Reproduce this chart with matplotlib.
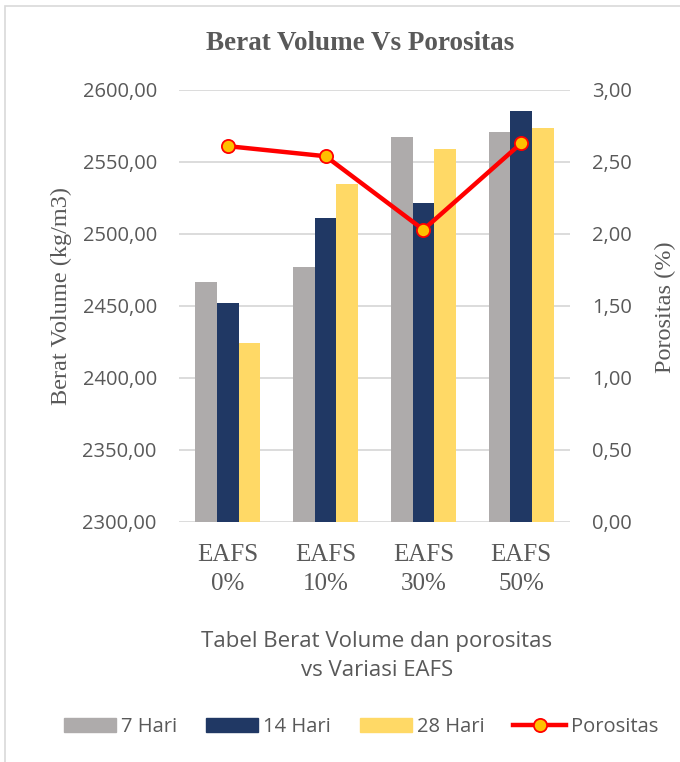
import numpy as np
import matplotlib.pyplot as plt
from matplotlib.patches import Rectangle, Patch
from matplotlib.lines import Line2D

# data
kategori = ['EAFS\n0%', 'EAFS\n10%', 'EAFS\n30%', 'EAFS\n50%']
hari_7 = [2466.4, 2477.3, 2567.1, 2570.6]
hari_14 = [2452.3, 2511.1, 2521.8, 2585.6]
hari_28 = [2424.5, 2534.7, 2559.0, 2573.4]
porositas = [2.61, 2.54, 2.03, 2.63]

left_ticks = np.arange(2300, 2601, 50)
right_ticks = np.arange(0, 3.01, 0.5)

abu = '#AEABAB'
biru = '#203864'
kuning = '#FFD966'
merah = '#FF0000'
teks = '#595959'
sans = 'Open Sans'
serif = 'Liberation Serif'

W, H = 680, 762
fig = plt.figure(figsize=(6.8, 7.62), dpi=100)

# light border of the chart area (left/top visible)
fig.patches.append(Rectangle((5 / W, -0.1), 1.2, 1 - 6 / H + 0.1, transform=fig.transFigure,
                             fill=False, edgecolor='#D9D9D9', lw=1.2))

ax = fig.add_axes([179 / W, 1 - 522 / H, (570 - 179) / W, (522 - 90) / H])
x = np.arange(len(kategori))
w = 0.222
ax.bar(x - w, hari_7, w, color=abu, zorder=2)
ax.bar(x, hari_14, w, color=biru, zorder=2)
ax.bar(x + w, hari_28, w, color=kuning, zorder=2)

ax.set_xlim(-0.5, 3.5)
ax.set_ylim(2300, 2600)
ax.set_yticks(left_ticks)
ax.set_yticklabels([f'{v:.2f}'.replace('.', ',') for v in left_ticks],
                   family=sans, fontsize=14.5, color=teks)
ax.set_xticks(x)
ax.set_xticklabels(kategori, family=serif, fontsize=18, color=teks, linespacing=1.38)
ax.tick_params(axis='y', length=0, pad=16)
ax.tick_params(axis='x', length=0, pad=16)
ax.yaxis.grid(True, color='#D9D9D9', lw=1.3)
ax.set_axisbelow(True)
for s in ax.spines.values():
    s.set_visible(False)

ax2 = ax.twinx()
ax2.plot(x, porositas, color=merah, lw=3.2, marker='o', ms=9.5,
         mfc='#FFC000', mec=merah, mew=1.3, zorder=5)
ax2.set_ylim(0, 3)
ax2.set_yticks(right_ticks)
ax2.set_yticklabels([f'{v:.2f}'.replace('.', ',') for v in right_ticks],
                    family=sans, fontsize=14.5, color=teks)
ax2.tick_params(axis='y', length=0, pad=16)
for s in ax2.spines.values():
    s.set_visible(False)

fig.text(360 / W, 1 - 44 / H, 'Berat Volume Vs Porositas', family=serif, fontweight='bold',
         fontsize=19.5, color=teks, ha='center', va='center')
fig.text(61 / W, 1 - 296 / H, 'Berat Volume (kg/m3)', family=serif, fontsize=17.5,
         color=teks, rotation=90, ha='center', va='center')
fig.text(665 / W, 1 - 307 / H, 'Porositas (%)', family=serif, fontsize=17.5,
         color=teks, rotation=90, ha='center', va='center')
fig.text(377 / W, 1 - 656 / H, 'Tabel Berat Volume dan porositas\nvs Variasi EAFS',
         family=sans, fontsize=16, color=teks, ha='center', va='center', linespacing=1.55)

handles = [Patch(color=abu), Patch(color=biru), Patch(color=kuning),
           Line2D([], [], color=merah, lw=3.2, marker='o', ms=9.5, mfc='#FFC000', mec=merah, mew=1.3)]
fig.legend(handles, ['7 Hari', '14 Hari', '28 Hari', 'Porositas'], loc='center',
           bbox_to_anchor=(361 / W, 1 - 727 / H), ncol=4, frameon=False,
           prop={'family': sans, 'size': 14.5}, labelcolor=teks,
           handlelength=2.6, handleheight=0.65, handletextpad=0.25, columnspacing=1.42,
           borderpad=0)

fig.savefig('out.png', dpi=100)
